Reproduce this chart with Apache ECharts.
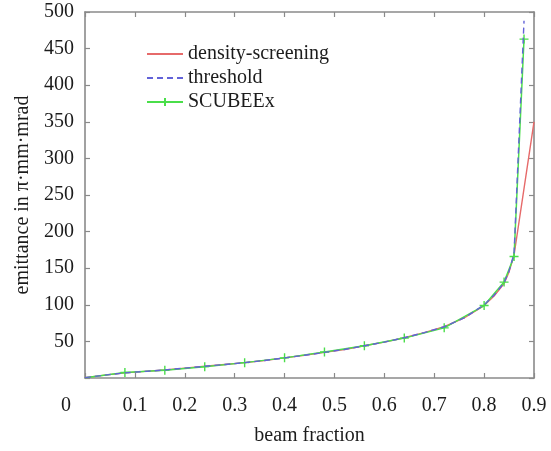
<!DOCTYPE html>
<html>
<head>
<meta charset="utf-8">
<script src="https://cdn.jsdelivr.net/npm/echarts@6/dist/echarts.min.js"></script>
<style>
  html, body { margin: 0; padding: 0; background: #fff; }
  #chart { width: 551px; height: 451px; }
</style>
</head>
<body>
<div id="chart"></div>
<script>
// Emittance versus beam fraction for three methods
const xTickLabels = ['0', '0.1', '0.2', '0.3', '0.4', '0.5', '0.6', '0.7', '0.8', '0.9'];
const yTickLabels = ['', '50', '100', '150', '200', '250', '300', '350', '400', '450', '500'];

const densityX = [0, 0.04, 0.08, 0.12, 0.16, 0.20, 0.24, 0.28, 0.32, 0.36, 0.40, 0.44, 0.48, 0.52, 0.56, 0.60, 0.64, 0.68, 0.72, 0.76, 0.80, 0.82, 0.84, 0.85, 0.86, 0.90];
const densityY = [0.5, 4, 7, 9, 11, 13.5, 16, 18.5, 21, 24, 27.5, 31, 35, 39, 44, 49, 55, 62, 70, 82, 99, 112, 129, 145, 168, 350];

const thresholdX = [0, 0.04, 0.08, 0.12, 0.16, 0.20, 0.24, 0.28, 0.32, 0.36, 0.40, 0.44, 0.48, 0.52, 0.56, 0.60, 0.64, 0.68, 0.72, 0.76, 0.80, 0.82, 0.84, 0.85, 0.86, 0.88];
const thresholdY = [0.5, 4, 7, 9, 11, 13.5, 16, 18.5, 21, 24, 27.5, 31, 35, 39, 44, 49, 55, 62, 70, 82, 100, 113, 130, 146, 170, 488];

const scubeexX = [0, 0.08, 0.16, 0.24, 0.32, 0.40, 0.48, 0.56, 0.64, 0.72, 0.80, 0.84, 0.86, 0.88];
const scubeexY = [0.5, 7.5, 10.5, 15.5, 21, 27.5, 35.5, 44, 54.5, 68.5, 99, 131, 166, 463];

const seriesNames = ['density-screening', 'threshold', 'SCUBEEx'];

const FONT = 'Liberation Serif';
const TEXT = '#1c1c1c';
const AXIS_GRAY = '#8a8a8a';
const RED = '#e66a6a';
const BLUE = '#6262d8';
const GREEN = '#4ade4a';
const plus = 'path://M0,5L10,5M5,0L5,10';

function pairs(xs, ys) { return xs.map((x, i) => [x, ys[i]]); }

const scubeexData = pairs(scubeexX, scubeexY).map((p, i) =>
  i === 0 ? { value: p, symbol: 'none' } : p);

const chart = echarts.init(document.getElementById('chart'), null, { renderer: 'canvas' });

const tickCommon = { show: true, inside: true, length: 5, lineStyle: { color: AXIS_GRAY, width: 1.2 } };
const lineCommon = { show: true, onZero: false, lineStyle: { color: AXIS_GRAY, width: 1.6 } };

chart.setOption({
  backgroundColor: '#fff',
  animation: false,
  grid: { left: 85, right: 17, top: 12, bottom: 67 },
  legend: {
    orient: 'vertical',
    left: 141,
    top: 39,
    itemWidth: 36,
    itemHeight: 10,
    itemGap: 4,
    textStyle: { fontFamily: FONT, fontSize: 20, color: TEXT },
    data: [
      { name: seriesNames[0], itemStyle: { opacity: 0 } },
      { name: seriesNames[1], itemStyle: { opacity: 0 } },
      { name: seriesNames[2] }
    ]
  },
  xAxis: [{
    type: 'value', min: 0, max: 0.9, interval: 0.1,
    name: 'beam fraction', nameLocation: 'middle', nameGap: 48,
    nameTextStyle: { fontFamily: FONT, fontSize: 20, color: TEXT },
    axisLine: lineCommon, axisTick: tickCommon, splitLine: { show: false },
    axisLabel: {
      margin: 18, fontFamily: FONT, fontSize: 20, color: TEXT,
      formatter: v => {
        const t = xTickLabels[Math.round(v * 10)];
        return Math.round(v * 10) === 0 ? '{z|' + t + '}' : t;
      },
      rich: { z: { fontFamily: FONT, fontSize: 20, color: TEXT, padding: [0, 38, 0, 0] } }
    }
  }, {
    type: 'value', position: 'top', min: 0, max: 0.9, interval: 0.1,
    axisLine: lineCommon, axisTick: tickCommon, splitLine: { show: false },
    axisLabel: { show: false }
  }],
  yAxis: [{
    type: 'value', min: 0, max: 500, interval: 50,
    name: 'emittance in π·mm·mrad', nameLocation: 'middle', nameGap: 52,
    nameTextStyle: { fontFamily: FONT, fontSize: 20, color: TEXT },
    axisLine: lineCommon, axisTick: tickCommon, splitLine: { show: false },
    axisLabel: {
      margin: 11, fontFamily: FONT, fontSize: 20, color: TEXT,
      formatter: v => yTickLabels[Math.round(v / 50)]
    }
  }, {
    type: 'value', position: 'right', min: 0, max: 500, interval: 50,
    axisLine: lineCommon, axisTick: tickCommon, splitLine: { show: false },
    axisLabel: { show: false }
  }],
  series: [{
    name: seriesNames[0], type: 'line', showSymbol: false, symbol: 'none', z: 2,
    color: RED,
    lineStyle: { color: RED, width: 1.4 },
    data: pairs(densityX, densityY)
  }, {
    name: seriesNames[1], type: 'line', showSymbol: false, symbol: 'none', z: 4,
    color: BLUE,
    lineStyle: { color: BLUE, width: 1.4, type: [6, 4] },
    data: pairs(thresholdX, thresholdY)
  }, {
    name: seriesNames[2], type: 'line', symbol: plus, symbolSize: 9, z: 3,
    color: GREEN,
    lineStyle: { color: GREEN, width: 1.5 },
    itemStyle: { color: 'none', borderColor: GREEN, borderWidth: 1.4 },
    data: scubeexData
  }]
});
</script>
</body>
</html>
